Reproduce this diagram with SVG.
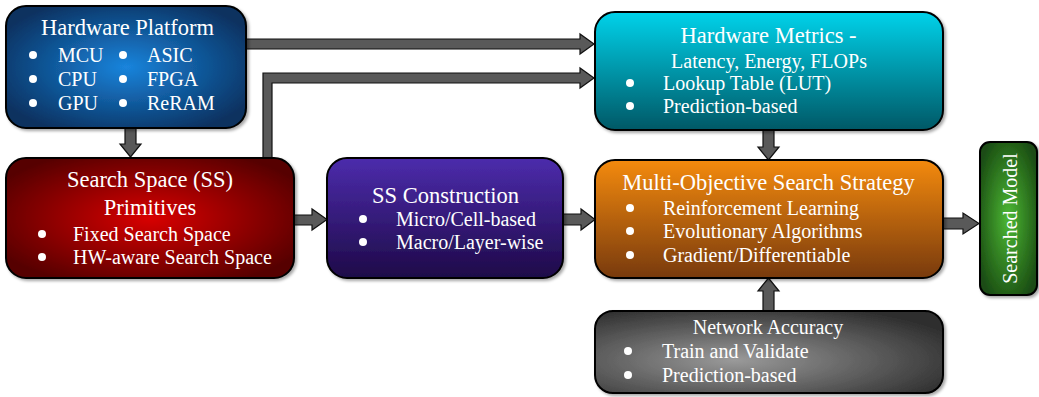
<svg xmlns="http://www.w3.org/2000/svg" width="1039" height="397" viewBox="0 0 1039 397">
<defs>
<radialGradient id="gBlue" cx="0.5" cy="0.5" r="0.6"><stop offset="0" stop-color="#1a84dc"/><stop offset="1" stop-color="#08305e"/></radialGradient>
<radialGradient id="gRed" cx="0.5" cy="0.5" r="0.6"><stop offset="0" stop-color="#d80404"/><stop offset="1" stop-color="#560000"/></radialGradient>
<linearGradient id="gPurple" x1="0" y1="0" x2="0" y2="1"><stop offset="0" stop-color="#4c2cac"/><stop offset="1" stop-color="#1e0a48"/></linearGradient>
<linearGradient id="gCyan" x1="0" y1="0" x2="0" y2="1"><stop offset="0" stop-color="#00d2ea"/><stop offset="1" stop-color="#005866"/></linearGradient>
<linearGradient id="gOrange" x1="0" y1="0" x2="0" y2="1"><stop offset="0" stop-color="#f48a0c"/><stop offset="1" stop-color="#783a08"/></linearGradient>
<radialGradient id="gGray" cx="0.4" cy="0.6" r="0.7"><stop offset="0" stop-color="#9a9a9a"/><stop offset="1" stop-color="#2e2e2e"/></radialGradient>
<radialGradient id="gGreen" cx="0.5" cy="0.5" r="0.6"><stop offset="0" stop-color="#4cb834"/><stop offset="1" stop-color="#1a4c12"/></radialGradient>
<filter id="sh" x="-10%" y="-10%" width="130%" height="130%"><feDropShadow dx="2" dy="2" stdDeviation="1.5" flood-color="#000" flood-opacity="0.35"/></filter>
</defs>
<style>
.box{stroke:#000;stroke-width:2;filter:url(#sh)}
.t{font-family:"Liberation Serif","Times New Roman",serif;fill:#fff}
.title{font-size:22.5px;text-anchor:middle}
.item{font-size:20px}
.b{fill:#fff}
.arr{fill:#595959;stroke:#111;stroke-width:1.2;stroke-linejoin:miter}
</style>

<g id="connectors">
<polygon class="arr" points="125,128 136,128 136,144 141,144 130.5,157 120,144 125,144"/>
<polygon class="arr" points="246,39 580,39 580,34 594,44 580,54 580,49 246,49"/>
<polygon class="arr" points="263,158 263,73 580,73 580,68 594,78 580,88 580,83 272,83 272,158"/>
<polygon class="arr" points="294,215 312,215 312,209 327,219.5 312,230 312,225 294,225"/>
<polygon class="arr" points="563,214 581,214 581,209 595,219.5 581,230 581,225 563,225"/>
<polygon class="arr" points="763,130 774,130 774,147 779,147 768.5,160 758,147 763,147"/>
<polygon class="arr" points="943,218 963,218 963,213 979,223.5 963,234 963,229 943,229"/>
<polygon class="arr" points="763,311 763,291 758,291 768.5,278 779,291 774,291 774,311"/>
</g>

<g id="hardware-platform">
<rect class="box" x="6" y="6" width="240" height="122" rx="20" fill="url(#gBlue)"/>
<text class="t title" x="127.5" y="35">Hardware Platform</text>
<circle class="b" cx="33" cy="55" r="4"/><text class="t item" x="58" y="62">MCU</text>
<circle class="b" cx="33" cy="79" r="4"/><text class="t item" x="58" y="86">CPU</text>
<circle class="b" cx="33" cy="103" r="4"/><text class="t item" x="58" y="110">GPU</text>
<circle class="b" cx="123" cy="55" r="4"/><text class="t item" x="147" y="62">ASIC</text>
<circle class="b" cx="123" cy="79" r="4"/><text class="t item" x="147" y="86">FPGA</text>
<circle class="b" cx="123" cy="103" r="4"/><text class="t item" x="147" y="110">ReRAM</text>
</g>

<g id="search-space">
<rect class="box" x="6" y="158" width="288" height="120" rx="20" fill="url(#gRed)"/>
<text class="t title" x="150" y="187">Search Space (SS)</text>
<text class="t title" x="150" y="215">Primitives</text>
<circle class="b" cx="42" cy="234" r="4"/><text class="t item" x="73" y="241">Fixed Search Space</text>
<circle class="b" cx="42" cy="257" r="4"/><text class="t item" x="73" y="264">HW-aware Search Space</text>
</g>

<g id="ss-construction">
<rect class="box" x="327" y="158" width="236" height="120" rx="20" fill="url(#gPurple)"/>
<text class="t title" x="445.5" y="203">SS Construction</text>
<circle class="b" cx="363" cy="219" r="4"/><text class="t item" x="396" y="226">Micro/Cell-based</text>
<circle class="b" cx="363" cy="242" r="4"/><text class="t item" x="396" y="249">Macro/Layer-wise</text>
</g>

<g id="hardware-metrics">
<rect class="box" x="595" y="12" width="348" height="118" rx="20" fill="url(#gCyan)"/>
<text class="t title" x="768.5" y="43">Hardware Metrics -</text>
<text class="t item" x="769" y="68" text-anchor="middle">Latency, Energy, FLOPs</text>
<circle class="b" cx="630" cy="83" r="4"/><text class="t item" x="663" y="90">Lookup Table (LUT)</text>
<circle class="b" cx="630" cy="106" r="4"/><text class="t item" x="663" y="113">Prediction-based</text>
</g>

<g id="search-strategy">
<rect class="box" x="595" y="160" width="348" height="118" rx="20" fill="url(#gOrange)"/>
<text class="t title" x="768.5" y="190">Multi-Objective Search Strategy</text>
<circle class="b" cx="630" cy="208" r="4"/><text class="t item" x="663" y="215">Reinforcement Learning</text>
<circle class="b" cx="630" cy="231" r="4"/><text class="t item" x="663" y="238">Evolutionary Algorithms</text>
<circle class="b" cx="630" cy="255" r="4"/><text class="t item" x="663" y="262">Gradient/Differentiable</text>
</g>

<g id="network-accuracy">
<rect class="box" x="595" y="311" width="348" height="82" rx="18" fill="url(#gGray)"/>
<text class="t item" x="768" y="334" text-anchor="middle">Network Accuracy</text>
<circle class="b" cx="628" cy="351" r="4"/><text class="t item" x="662" y="358">Train and Validate</text>
<circle class="b" cx="628" cy="375" r="4"/><text class="t item" x="662" y="382">Prediction-based</text>
</g>

<g id="searched-model">
<rect class="box" x="980" y="142" width="57" height="153" rx="10" fill="url(#gGreen)"/>
<text class="t item" x="1017" y="218.5" text-anchor="middle" transform="rotate(-90 1017 218.5)">Searched Model</text>
</g>
</svg>
